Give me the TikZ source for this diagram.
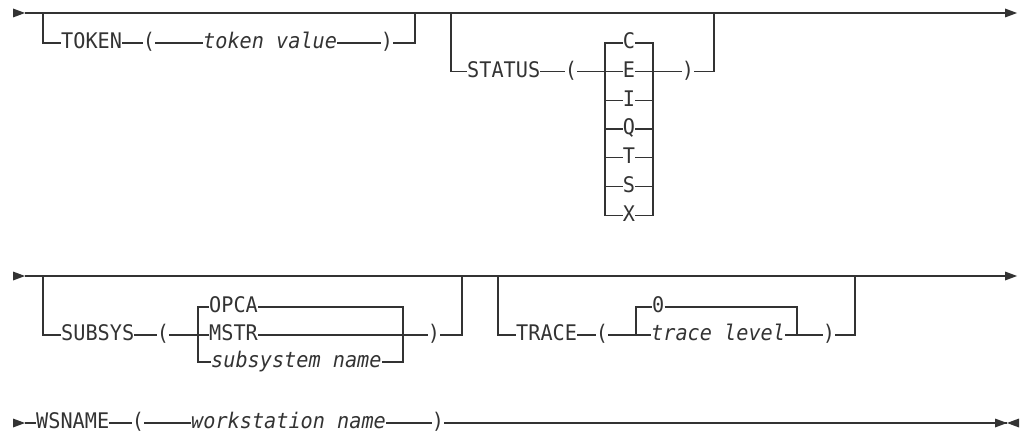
\documentclass[tikz,border=0pt]{standalone}
\usepackage{fontspec}
\newfontfamily\railfam[FakeStretch=0.94]{DejaVu Sans Mono}
\newcommand\railfont{\railfam\fontsize{21.5pt}{25pt}\selectfont}
\definecolor{railc}{HTML}{333333}
\tikzset{
  rail/.style={draw=railc, line width=1.2pt},
  kw/.style={anchor=mid west, inner sep=0pt, font=\railfont, text=railc},
  var/.style={anchor=mid west, inner sep=0pt, font=\railfont\itshape, text=railc},
  par/.style={anchor=mid, inner sep=0pt, font=\railfont, text=railc},
  chc/.style={anchor=mid, inner sep=0pt, font=\railfont, text=railc},
  tipfill/.style={fill=railc}
}
\begin{document}
\railfont
\begin{tikzpicture}[x=1pt,y=-1pt]
\useasboundingbox (0,0) rectangle (1024,438);

% ---------------- Row 1 ----------------
\coordinate (r1s) at (25,13);
\coordinate (r1e) at (1005,13);
\draw[rail] (r1s) -- (r1e);
\fill[tipfill] (r1s) -- ++(-12,-4.5) -- ++(0,9) -- cycle;
\fill[tipfill] (r1e) ++(0,-4.5) -- ++(12,4.5) -- ++(-12,4.5) -- cycle;

% TOKEN branch
\coordinate (tb1) at (43,13);
\coordinate (tb2) at (415,13);
\node[kw] (tok) at (61,43) {TOKEN};
\node[par] (tlp) at (149,43) {(};
\node[var] (tval) at (203,43) {token value};
\node[par] (trp) at (387,43) {)};
\draw[rail] (tb1) |- (tok.mid west);
\draw[rail] (tok.mid east) -- (tlp.mid west);
\draw[rail] (tlp.mid east) -- (tval.mid west);
\draw[rail] (tval.mid east) -- (trp.mid west);
\draw[rail] (trp.mid east) -| (tb2);

% STATUS branch
\coordinate (sb1) at (451,13);
\coordinate (sb2) at (714,13);
\coordinate (sl) at (605,0);
\coordinate (sr) at (653,0);
\node[kw] (sta) at (467,71.7) {STATUS};
\node[par] (slp) at (571,71.7) {(};
\node[par] (srp) at (688,71.7) {)};
\foreach \n/\y in {C/43,E/71.7,I/100.4,Q/129.1,T/157.8,S/186.5,X/215.2}
  \node[chc] (s\n) at (629,\y) {\n};
\draw[rail] (sb1) |- (sta.mid west);
\draw[rail] (sta.mid east) -- (slp.mid west);
\draw[rail] (slp.mid east) -- (sE.mid west);
\draw[rail] (sE.mid east) -- (srp.mid west);
\draw[rail] (srp.mid east) -| (sb2);
\draw[rail] (sC.mid west) -| (sl |- sX.mid west) -- (sX.mid west);
\draw[rail] (sC.mid east) -| (sr |- sX.mid east) -- (sX.mid east);
\foreach \n in {I,Q,T,S}
  \draw[rail] (sl |- s\n.mid west) -- (s\n.mid west) (s\n.mid east) -- (sr |- s\n.mid east);

% ---------------- Row 2 ----------------
\coordinate (r2s) at (25,276);
\coordinate (r2e) at (1005,276);
\draw[rail] (r2s) -- (r2e);
\fill[tipfill] (r2s) -- ++(-12,-4.5) -- ++(0,9) -- cycle;
\fill[tipfill] (r2e) ++(0,-4.5) -- ++(12,4.5) -- ++(-12,4.5) -- cycle;

% SUBSYS branch
\coordinate (ub1) at (43,276);
\coordinate (ub2) at (462,276);
\coordinate (ul) at (198,0);
\coordinate (ur) at (403,0);
\node[kw] (sub) at (61,335) {SUBSYS};
\node[par] (ulp) at (163,335) {(};
\node[kw] (oo) at (209,307) {OPCA};
\node[kw] (om) at (209,335) {MSTR};
\node[var] (osn) at (211,362) {subsystem name};
\node[par] (urp) at (434,335) {)};
\draw[rail] (ub1) |- (sub.mid west);
\draw[rail] (sub.mid east) -- (ulp.mid west);
\draw[rail] (ulp.mid east) -- (om.mid west);
\draw[rail] (om.mid east) -- (urp.mid west);
\draw[rail] (urp.mid east) -| (ub2);
\draw[rail] (oo.mid west) -| (ul |- osn.mid west) -- (osn.mid west);
\draw[rail] (oo.mid east) -| (ur |- osn.mid east) -- (osn.mid east);

% TRACE branch
\coordinate (vb1) at (498,276);
\coordinate (vb2) at (855,276);
\coordinate (vl) at (636,0);
\coordinate (vr) at (797,0);
\node[kw] (tra) at (516,335) {TRACE};
\node[par] (vlp) at (602,335) {(};
\node[kw] (v0) at (652,307) {0};
\node[var] (vtl) at (651,335) {trace level};
\node[par] (vrp) at (829,335) {)};
\draw[rail] (vb1) |- (tra.mid west);
\draw[rail] (tra.mid east) -- (vlp.mid west);
\draw[rail] (vlp.mid east) -- (vtl.mid west);
\draw[rail] (vtl.mid east) -- (vrp.mid west);
\draw[rail] (vrp.mid east) -| (vb2);
\draw[rail] (v0.mid west) -| (vl |- vtl.mid west);
\draw[rail] (v0.mid east) -| (vr |- vtl.mid east);

% ---------------- Row 3 ----------------
\coordinate (r3s) at (25,423);
\coordinate (r3e) at (1007,423);
\fill[tipfill] (r3s) -- ++(-12,-4.5) -- ++(0,9) -- cycle;
\node[kw] (wsn) at (36,423) {WSNAME};
\node[par] (wlp) at (138,423) {(};
\node[var] (wval) at (191,423) {workstation name};
\node[par] (wrp) at (438,423) {)};
\draw[rail] (r3s) -- (wsn.mid west);
\draw[rail] (wsn.mid east) -- (wlp.mid west);
\draw[rail] (wlp.mid east) -- (wval.mid west);
\draw[rail] (wval.mid east) -- (wrp.mid west);
\draw[rail] (wrp.mid east) -- (r3e);
\fill[tipfill] (r3e) -- ++(-12,-4.5) -- ++(0,9) -- cycle;
\fill[tipfill] (r3e) -- ++(12,-4.5) -- ++(0,9) -- cycle;
\end{tikzpicture}
\end{document}
